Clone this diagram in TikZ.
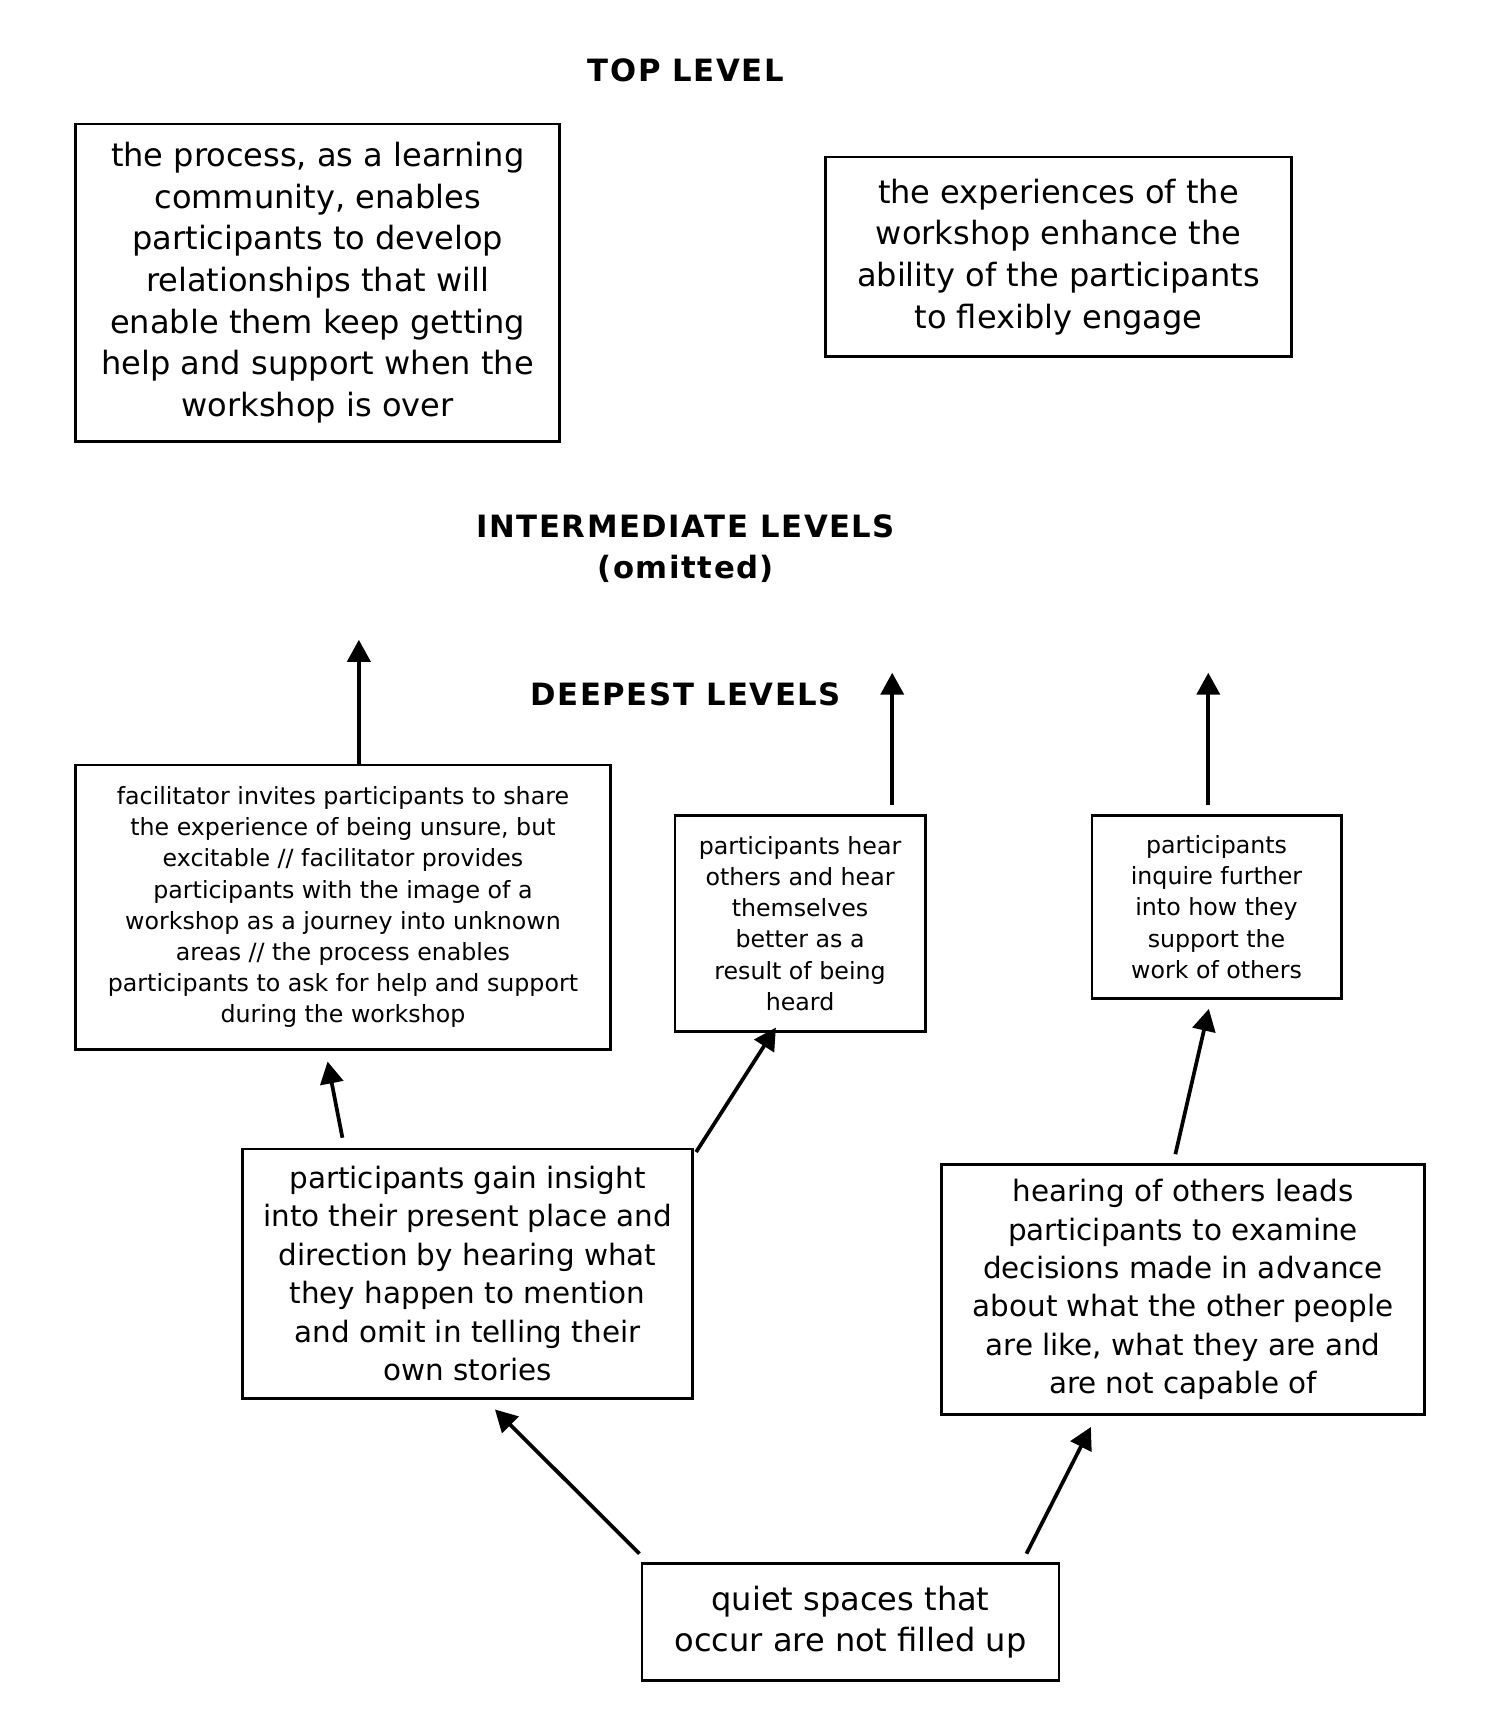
\documentclass[tikz,border=0pt]{standalone}
\usepackage{fontspec}
\setmainfont{DejaVu Sans}
\newfontfamily\headfont{DejaVu Sans Bold}[LetterSpace=5]
\usepackage{tikz}
\usetikzlibrary{arrows.meta}

\begin{document}
\begin{tikzpicture}[x=0.5pt,y=-0.5pt,
    box/.style={draw,line width=1.3pt,rectangle,align=center,inner sep=0pt},
    bigbox/.style={box,font=\fontsize{14.6}{19}\selectfont},
    midbox/.style={box,font=\fontsize{13.4}{17.5}\selectfont},
    smallbox/.style={box,font=\fontsize{10.8}{14.2}\selectfont},
    heading/.style={align=center,font=\fontsize{14}{19}\headfont},
    arr/.style={-{Triangle[width=10.5pt,length=10pt]},line width=1.7pt}]
    \useasboundingbox (0,0) rectangle (1358,1570);
    \node[heading] (top) at (625,64) {TOP LEVEL};
    \node[heading] (mid) at (625,500) {INTERMEDIATE LEVELS\\(omitted)};
    \node[heading] (deep) at (625,633) {DEEPEST LEVELS};
    \node[bigbox,minimum width=220.5pt,minimum height=144.5pt] (community) at (289.5,257.5) {the process, as a learning\\community, enables\\participants to develop\\relationships that will\\enable them keep getting\\help and support when the\\workshop is over};
    \node[bigbox,minimum width=212.5pt,minimum height=91pt] (engage) at (964.5,234) {the experiences of the\\workshop enhance the\\ability of the participants\\to flexibly engage};
    \node[smallbox,minimum width=243.5pt,minimum height=129.5pt] (invite) at (312.5,826.5) {facilitator invites participants to share\\the experience of being unsure, but\\excitable // facilitator provides\\participants with the image of a\\workshop as a journey into unknown\\areas // the process enables\\participants to ask for help and support\\during the workshop};
    \node[smallbox,minimum width=114pt,minimum height=98.5pt] (hear) at (729,841.5) {participants hear\\others and hear\\themselves\\better as a\\result of being\\heard};
    \node[smallbox,minimum width=113.5pt,minimum height=83.5pt] (inquire) at (1108.5,826.5) {participants\\inquire further\\into how they\\support the\\work of others};
    \node[midbox,minimum width=205pt,minimum height=113.5pt] (insight) at (426,1160.5) {participants gain insight\\into their present place and\\direction by hearing what\\they happen to mention\\and omit in telling their\\own stories};
    \node[midbox,minimum width=220pt,minimum height=114pt] (decide) at (1078,1175) {hearing of others leads\\participants to examine\\decisions made in advance\\about what the other people\\are like, what they are and\\are not capable of};
    \node[bigbox,minimum width=190pt,minimum height=53pt] (quiet) at (775,1478) {quiet spaces that\\occur are not filled up};
    \coordinate (upinvite) at (327,583);
    \coordinate (uphear) at (813,613);
    \coordinate (upinquire) at (1101,613);
    \draw[arr] (upinvite |- invite.north) -- (upinvite);
    \draw[arr,shorten <=4pt] (uphear |- hear.north) -- (uphear);
    \draw[arr,shorten <=4pt] (upinquire |- inquire.north) -- (upinquire);
    \draw[arr] ([shift={(-114,-9)}]insight.north) -- ([shift={(-14,10)}]invite.south);
    \draw[arr] ([shift={(2,4)}]insight.north east) -- ([shift={(-22,-5)}]hear.south);
    \draw[arr] ([shift={(-7,-8)}]decide.north) -- ([shift={(-7,8)}]inquire.south);
    \draw[arr] ([shift={(-1,-8)}]quiet.north west) -- ([shift={(25,9)}]insight.south);
    \draw[arr] ([shift={(-31,-8)}]quiet.north east) -- ([shift={(-84,10)}]decide.south);
\end{tikzpicture}
\end{document}
